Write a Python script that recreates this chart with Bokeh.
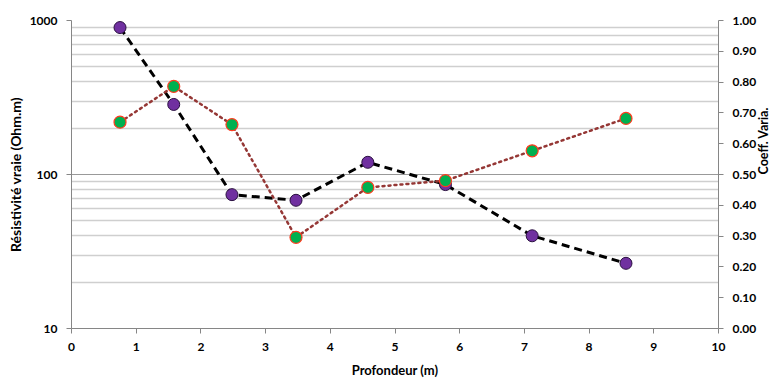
import math
from bokeh.plotting import figure
from bokeh.models import Range1d, LinearAxis, FixedTicker, NumeralTickFormatter, LinearScale
from bokeh.embed import file_html
from bokeh.resources import INLINE

depth = [0.75, 1.58, 2.48, 3.47, 4.58, 5.78, 7.12, 8.57]
resistivity = [900, 285, 74, 68, 120, 86, 40, 26.5]
coeff_var = [0.67, 0.786, 0.662, 0.296, 0.458, 0.48, 0.577, 0.682]

x_ticks = list(range(0, 11))
res_ticks = [10, 100, 1000]
res_minor = [20, 30, 40, 50, 60, 70, 80, 90, 200, 300, 400, 500, 600, 700, 800, 900]
cv_ticks = [i / 10 for i in range(0, 11)]

FONT = "Lato"
AX = "#868686"

p = figure(width=782, height=380, output_backend="svg", toolbar_location=None,
           y_axis_type="log", x_range=Range1d(0, 10), y_range=Range1d(10, 1000),
           min_border_left=71, min_border_right=64, min_border_top=20, min_border_bottom=52)
p.outline_line_color = None
p.background_fill_color = "white"
p.border_fill_color = "white"

p.extra_y_ranges = {"cv": Range1d(0, 1)}
p.extra_y_scales = {"cv": LinearScale()}
right = LinearAxis(y_range_name="cv", ticker=FixedTicker(ticks=cv_ticks),
                   formatter=NumeralTickFormatter(format="0.00"),
                   axis_label="Coeff. Varia.")
p.add_layout(right, "right")
right.axis_label_orientation = math.pi / 2

p.xaxis.ticker = FixedTicker(ticks=x_ticks)
p.yaxis[0].ticker = FixedTicker(ticks=res_ticks, minor_ticks=res_minor)
p.yaxis[0].formatter = NumeralTickFormatter(format="0")
p.xaxis.axis_label = "Profondeur (m)"
p.yaxis[0].axis_label = "Résistivité vraie (Ohm.m)"

for ax in [p.xaxis[0], p.yaxis[0], right]:
    ax.axis_line_color = AX
    ax.major_tick_line_color = AX
    ax.major_tick_out = 5
    ax.major_tick_in = 0
    ax.minor_tick_line_color = None
    ax.major_label_text_font = FONT
    ax.major_label_text_font_style = "bold"
    ax.major_label_text_font_size = "12px"
    ax.major_label_text_color = "black"
    ax.axis_label_text_font = FONT
    ax.axis_label_text_font_style = "bold"
    ax.axis_label_text_font_size = "13px"
    ax.axis_label_text_color = "black"

p.yaxis[0].axis_label_text_font_size = "14px"
right.axis_label_text_font_size = "12.5px"
right.axis_label_text_baseline = "bottom"
p.xaxis.major_label_standoff = 9
p.xaxis.axis_label_standoff = 8
p.yaxis[0].major_label_standoff = 9
p.yaxis[0].axis_label_standoff = 3
right.major_label_standoff = 9
right.axis_label_standoff = 4

p.xgrid.grid_line_color = None
p.ygrid.grid_line_color = "#999999"
p.ygrid.minor_grid_line_color = "#cfcfcf"
p.ygrid.grid_line_width = 1
p.ygrid.minor_grid_line_width = 1.5

p.line(depth, resistivity, line_color="black", line_width=3, line_dash="8 5")
p.scatter(depth, resistivity, size=12, fill_color="#7030A0", line_color="#2a1040", line_width=1)

p.line(depth, coeff_var, line_color="#953735", line_width=2.5, line_dash="2 4",
       line_cap="round", y_range_name="cv")
p.scatter(depth, coeff_var, size=12, fill_color="#00B050", line_color="#FF3B1F",
          line_width=1.2, y_range_name="cv")

open("out.html", "w").write(file_html(p, INLINE))
